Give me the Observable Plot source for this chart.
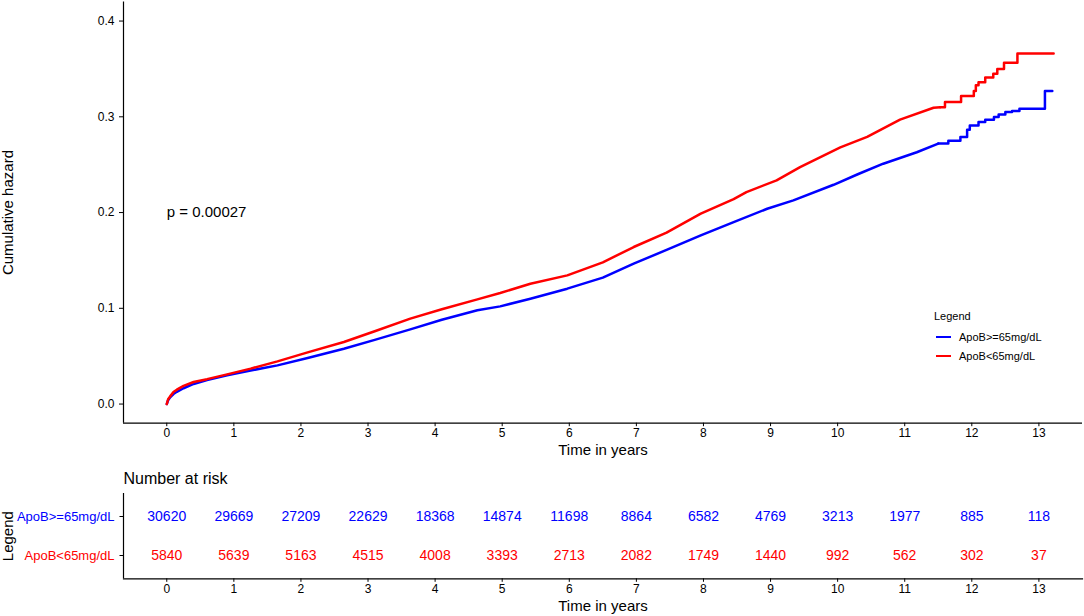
<!DOCTYPE html>
<html>
<head>
<meta charset="utf-8">
<script src="https://cdn.jsdelivr.net/npm/d3@7"></script>
<script src="https://cdn.jsdelivr.net/npm/@observablehq/plot@0.6"></script>
<style>
  body { margin: 0; background: white; }
  #wrap { position: relative; width: 1084px; height: 616px; font-family: "Liberation Sans", Arial, sans-serif; }
  #main, #risk { display: block; }
  #legend { position: absolute; left: 934px; top: 310px; font-size: 11px; color: #000; }
  #legend .title { margin-bottom: 5px; }
  #legend .item { display: flex; align-items: center; height: 19.5px; }
  #legend .sw { width: 15px; height: 0; border-top: 2.5px solid; margin: 0 8px 0 2px; }
</style>
</head>
<body>
<div id="wrap">
  <div id="main"></div>
  <div id="risk"></div>
  <div id="legend"></div>
</div>
<script>
// ---- Data ----
const groups = ["ApoB>=65mg/dL", "ApoB<65mg/dL"];
const groupColors = ["#0000FF", "#FF0000"];

// Cumulative hazard, ApoB>=65mg/dL (smooth part, then step part from stepStartHigh)
const timeHigh = [0, 0.02, 0.05, 0.1, 0.15, 0.25, 0.4, 0.6, 0.9, 1.25, 1.65, 2.1, 2.64, 3.1, 3.63, 4.1, 4.63, 4.97, 5.42, 5.97, 6.5, 6.96, 7.45, 7.96, 8.45, 8.95, 9.34, 9.94, 10.3, 10.68, 11.18, 11.5,
                  11.65, 11.83, 11.93, 11.97, 12.1, 12.2, 12.33, 12.4, 12.5, 12.6, 12.71, 13.09, 13.2];
const hazHigh  = [0, 0.004, 0.007, 0.0105, 0.0128, 0.0165, 0.021, 0.025, 0.030, 0.035, 0.0404, 0.048, 0.0578, 0.067, 0.078, 0.088, 0.098, 0.102, 0.110, 0.1205, 0.132, 0.1466, 0.161, 0.1762, 0.19, 0.204, 0.2127, 0.229, 0.240, 0.251, 0.263, 0.272,
                  0.275, 0.279, 0.2866, 0.291, 0.2945, 0.297, 0.2997, 0.3025, 0.305, 0.306, 0.3085, 0.327, 0.327];
const stepStartHigh = 11.5;

// Cumulative hazard, ApoB<65mg/dL (smooth part, then step part from stepStartLow)
const timeLow = [0, 0.02, 0.05, 0.1, 0.15, 0.25, 0.4, 0.6, 0.9, 1.25, 1.65, 2.1, 2.64, 3.1, 3.63, 4.1, 4.63, 4.97, 5.42, 5.97, 6.5, 6.96, 7.45, 7.96, 8.45, 8.64, 9.09, 9.44, 10.04, 10.44, 10.93, 11.43, 11.53,
                 11.6, 11.84, 12.03, 12.06, 12.1, 12.2, 12.32, 12.38, 12.48, 12.68, 13.22];
const hazLow  = [0, 0.005, 0.008, 0.0125, 0.015, 0.019, 0.023, 0.026, 0.031, 0.037, 0.0446, 0.054, 0.0648, 0.076, 0.0892, 0.099, 0.1093, 0.116, 0.1257, 0.1344, 0.148, 0.164, 0.179, 0.1988, 0.214, 0.2214, 0.2336, 0.2475, 0.268, 0.279, 0.297, 0.3095, 0.310,
                 0.3154, 0.3217, 0.327, 0.333, 0.336, 0.341, 0.345, 0.350, 0.3565, 0.366, 0.366];
const stepStartLow = 11.53;

// Number at risk
const riskTimes = [0, 1, 2, 3, 4, 5, 6, 7, 8, 9, 10, 11, 12, 13];
const riskHigh = [30620, 29669, 27209, 22629, 18368, 14874, 11698, 8864, 6582, 4769, 3213, 1977, 885, 118];
const riskLow  = [5840, 5639, 5163, 4515, 4008, 3393, 2713, 2082, 1749, 1440, 992, 562, 302, 37];

const yTicks = [0, 0.1, 0.2, 0.3, 0.4];
const pText = "p = 0.00027";
const pTime = 0;
const pHaz = 0.2;

// ---- Tables built from arrays ----
const hazRows = [
  ...timeHigh.map((t, i) => ({group: groups[0], time: t, haz: hazHigh[i], step: t >= stepStartHigh, smooth: t <= stepStartHigh})),
  ...timeLow.map((t, i) => ({group: groups[1], time: t, haz: hazLow[i], step: t >= stepStartLow, smooth: t <= stepStartLow}))
];
const riskRows = [
  ...riskTimes.map((t, i) => ({group: groups[0], time: t, n: riskHigh[i]})),
  ...riskTimes.map((t, i) => ({group: groups[1], time: t, n: riskLow[i]}))
];

const xDomain = [-0.645, 13.65];
const yDomain = [-0.02, 0.42];
const font = "'Liberation Sans', Arial, sans-serif";

const mainPlot = Plot.plot({
  width: 1084, height: 460,
  marginLeft: 123, marginRight: 2, marginTop: 1.4, marginBottom: 37.3,
  style: {fontFamily: font, fontSize: "12px", color: "#000", background: "white", overflow: "visible"},
  x: {domain: xDomain},
  y: {domain: yDomain},
  color: {domain: groups, range: groupColors},
  marks: [
    Plot.ruleX([xDomain[0]], {stroke: "#000", strokeWidth: 1.2}),
    Plot.ruleY([yDomain[0]], {stroke: "#000", strokeWidth: 1.2}),
    Plot.axisX({ticks: riskTimes, tickSize: 3.5, tickPadding: 2, label: null, fontSize: 12}),
    Plot.axisY({ticks: yTicks, tickFormat: d3.format(".1f"), tickSize: 4, tickPadding: 5, label: null, fontSize: 12}),
    Plot.line(hazRows.filter(d => d.smooth), {x: "time", y: "haz", z: "group", stroke: "group", strokeWidth: 2.5, curve: "linear"}),
    Plot.line(hazRows.filter(d => d.step), {x: "time", y: "haz", z: "group", stroke: "group", strokeWidth: 2.5, curve: "step-after"}),
    Plot.text([{t: pTime, h: pHaz, label: pText}], {x: "t", y: "h", text: "label", textAnchor: "start", fontSize: 15}),
    Plot.text(["Time in years"], {frameAnchor: "bottom", lineAnchor: "middle", dy: 27, fontSize: 15}),
    Plot.text(["Cumulative hazard"], {frameAnchor: "left", textAnchor: "middle", dx: -115, rotate: -90, fontSize: 15})
  ]
});
document.getElementById("main").appendChild(mainPlot);

const riskPlot = Plot.plot({
  width: 1084, height: 156,
  marginLeft: 123, marginRight: 2, marginTop: 33, marginBottom: 37.7,
  style: {fontFamily: font, fontSize: "12px", color: "#000", background: "white", overflow: "visible"},
  x: {domain: xDomain},
  y: {domain: groups, type: "point", padding: 0.58},
  color: {domain: groups, range: groupColors},
  marks: [
    Plot.ruleX([xDomain[0]], {stroke: "#000", strokeWidth: 1.2}),
    Plot.frame({anchor: "bottom", stroke: "#000", strokeWidth: 1.2}),
    Plot.axisX({ticks: riskTimes, tickSize: 3.5, tickPadding: 2, label: null, fontSize: 12}),
    Plot.axisY({tickSize: 3.5, tickFormat: () => "", label: null}),
    Plot.text(groups, {y: d => d, frameAnchor: "left", dx: -9, textAnchor: "end", fill: d => d, fontSize: 13}),
    Plot.text(riskRows, {x: "time", y: "group", text: d => String(d.n), fill: "group", fontSize: 14}),
    Plot.text(["Number at risk"], {frameAnchor: "top-left", lineAnchor: "middle", dy: -15, textAnchor: "start", fontSize: 16}),
    Plot.text(["Legend"], {frameAnchor: "left", textAnchor: "middle", dx: -115, rotate: -90, fontSize: 15}),
    Plot.text(["Time in years"], {frameAnchor: "bottom", lineAnchor: "middle", dy: 27, fontSize: 15})
  ]
});
document.getElementById("risk").appendChild(riskPlot);

// Legend (inside the plot panel, as in the reference)
const leg = document.getElementById("legend");
leg.innerHTML = `<div class="title">Legend</div>` + groups.map((g, i) =>
  `<div class="item"><span class="sw" style="border-color:${groupColors[i]}"></span><span>${g}</span></div>`).join("");
</script>
</body>
</html>
